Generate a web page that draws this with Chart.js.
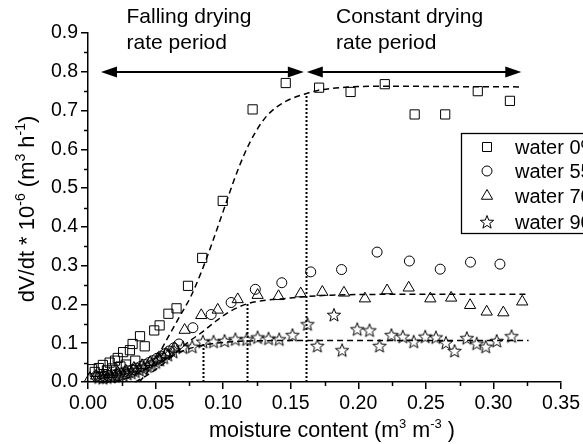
<!DOCTYPE html>
<html lang="en">
<head>
<meta charset="UTF-8">
<title>Drying rate vs moisture content</title>
<script src="https://cdn.jsdelivr.net/npm/chart.js"></script>
<style>
  html, body { margin: 0; padding: 0; background: #fff; }
  #wrap { width: 583px; height: 444px; }
</style>
</head>
<body>
<div id="wrap"><canvas id="chart" width="583" height="444"></canvas></div>
<script>
  // measured points (moisture content, dV/dt * 1e-6)
  const sqX = [0.003, 0.005, 0.008, 0.011, 0.014, 0.016, 0.018, 0.020, 0.022, 0.024, 0.026, 0.028, 0.031, 0.033, 0.035, 0.0385, 0.042, 0.049, 0.053, 0.0595, 0.0655, 0.074, 0.0845, 0.0997, 0.1218, 0.1463, 0.171, 0.1943, 0.2196, 0.2417, 0.2643, 0.2884, 0.3122];
  const sqY = [0.033, 0.026, 0.036, 0.044, 0.030, 0.050, 0.035, 0.055, 0.062, 0.040, 0.077, 0.045, 0.082, 0.098, 0.055, 0.118, 0.092, 0.133, 0.146, 0.176, 0.190, 0.248, 0.320, 0.467, 0.703, 0.771, 0.759, 0.748, 0.768, 0.690, 0.690, 0.750, 0.725];

  const ciX = [0.006, 0.009, 0.012, 0.015, 0.018, 0.021, 0.024, 0.027, 0.030, 0.033, 0.036, 0.039, 0.042, 0.045, 0.048, 0.051, 0.054, 0.057, 0.060, 0.0635, 0.0673, 0.0776, 0.0911, 0.1059, 0.1238, 0.1434, 0.1648, 0.1876, 0.2139, 0.2378, 0.2606, 0.283, 0.3048];
  const ciY = [0.015, 0.013, 0.015, 0.017, 0.018, 0.020, 0.023, 0.026, 0.029, 0.032, 0.036, 0.040, 0.045, 0.050, 0.055, 0.061, 0.067, 0.073, 0.080, 0.088, 0.098, 0.140, 0.174, 0.205, 0.239, 0.256, 0.284, 0.290, 0.335, 0.312, 0.291, 0.309, 0.304];

  const trX = [0.0015, 0.006, 0.011, 0.016, 0.022, 0.028, 0.034, 0.040, 0.046, 0.052, 0.058, 0.064, 0.0715, 0.0838, 0.096, 0.1108, 0.1255, 0.141, 0.1574, 0.1734, 0.1894, 0.2049, 0.2213, 0.2373, 0.2533, 0.2687, 0.2827, 0.295, 0.3073, 0.3213];
  const trY = [0.010, 0.016, 0.018, 0.020, 0.024, 0.029, 0.036, 0.043, 0.051, 0.060, 0.072, 0.088, 0.134, 0.172, 0.186, 0.213, 0.224, 0.221, 0.228, 0.232, 0.230, 0.215, 0.236, 0.243, 0.215, 0.217, 0.198, 0.181, 0.179, 0.207];

  const stX = [0.008, 0.011, 0.014, 0.017, 0.020, 0.023, 0.026, 0.029, 0.032, 0.035, 0.038, 0.041, 0.044, 0.047, 0.050, 0.053, 0.056, 0.059, 0.0629, 0.0702, 0.0771, 0.085, 0.0929, 0.101, 0.109, 0.1174, 0.1255, 0.1336, 0.1415, 0.1513, 0.1624, 0.1697, 0.182, 0.188, 0.1992, 0.2083, 0.2157, 0.2245, 0.2329, 0.241, 0.2495, 0.2574, 0.2648, 0.2712, 0.2803, 0.2876, 0.2943, 0.3024, 0.3134];
  const stY = [0.012, 0.010, 0.012, 0.013, 0.015, 0.016, 0.018, 0.021, 0.024, 0.027, 0.031, 0.035, 0.040, 0.045, 0.051, 0.057, 0.063, 0.070, 0.078, 0.089, 0.091, 0.104, 0.104, 0.106, 0.110, 0.110, 0.115, 0.112, 0.110, 0.121, 0.149, 0.093, 0.173, 0.082, 0.136, 0.133, 0.093, 0.121, 0.117, 0.104, 0.117, 0.115, 0.101, 0.080, 0.113, 0.099, 0.091, 0.106, 0.118];

  // fitted curves (dashed)
  const fit0X = [0.038, 0.045, 0.052, 0.060, 0.068, 0.076, 0.084, 0.092, 0.100, 0.108, 0.116, 0.124, 0.132, 0.140, 0.150, 0.160, 0.170, 0.190, 0.220, 0.260, 0.320];
  const fit0Y = [0.000, 0.030, 0.070, 0.120, 0.170, 0.220, 0.285, 0.360, 0.440, 0.520, 0.590, 0.645, 0.685, 0.710, 0.730, 0.742, 0.752, 0.760, 0.763, 0.762, 0.761];
  const fit70X = [0.035, 0.045, 0.055, 0.065, 0.075, 0.085, 0.095, 0.105, 0.118, 0.130, 0.145, 0.160, 0.180, 0.220, 0.326];
  const fit70Y = [0.000, 0.020, 0.045, 0.075, 0.105, 0.130, 0.158, 0.182, 0.202, 0.210, 0.215, 0.220, 0.224, 0.226, 0.226];
  const fit90X = [0.020, 0.030, 0.040, 0.050, 0.060, 0.070, 0.085, 0.100, 0.120, 0.160, 0.326];
  const fit90Y = [0.000, 0.012, 0.028, 0.045, 0.063, 0.080, 0.095, 0.102, 0.106, 0.107, 0.107];

  const legendLabels = ['water 0%', 'water 55%', 'water 70%', 'water 90%'];

  // annotations
  const arrowY = 0.8;
  const arrowSpans = [[0.0096, 0.1597], [0.1619, 0.3206]];
  const dropLines = [[0.085, 0.100], [0.118, 0.203], [0.161, 0.742]];
  const periodNotes = [
    { x: 0.0285, lines: ['Falling drying', 'rate period'] },
    { x: 0.1835, lines: ['Constant drying', 'rate period'] }
  ];

  const FONT = '"Liberation Sans", Arial, sans-serif';

  function pts(xs, ys) { return xs.map((x, i) => ({ x: x, y: ys[i] })); }

  // hollow 5-point star used as point style
  function makeStar(r) {
    const c = document.createElement('canvas');
    const s = Math.ceil(r * 2 + 4);
    c.width = s; c.height = s;
    const g = c.getContext('2d');
    g.translate(s / 2, s / 2 + 0.5);
    g.beginPath();
    for (let i = 0; i < 10; i++) {
      const rr = i % 2 ? r * 0.42 : r;
      const a = -Math.PI / 2 + i * Math.PI / 5;
      g.lineTo(Math.cos(a) * rr, Math.sin(a) * rr);
    }
    g.closePath();
    g.lineWidth = 1;
    g.strokeStyle = '#000';
    g.stroke();
    return c;
  }
  const starImg = makeStar(7);

  function marker(ctx, kind, x, y) {
    ctx.save();
    ctx.strokeStyle = '#000';
    ctx.lineWidth = 1;
    ctx.beginPath();
    if (kind === 0) {
      ctx.rect(x - 4.5, y - 4.5, 9, 9);
    } else if (kind === 1) {
      ctx.arc(x, y, 5, 0, Math.PI * 2);
    } else if (kind === 2) {
      const r = 6.5;
      ctx.moveTo(x, y - r);
      ctx.lineTo(x + r * 0.866, y + r * 0.5);
      ctx.lineTo(x - r * 0.866, y + r * 0.5);
      ctx.closePath();
    }
    ctx.stroke();
    if (kind === 3) ctx.drawImage(starImg, x - starImg.width / 2, y - starImg.height / 2);
    ctx.restore();
  }

  // text with superscripts: parts = [[text, isSup], ...]
  function richText(ctx, parts, cx, cy, size) {
    const supSize = Math.round(size * 0.62);
    let total = 0;
    const widths = parts.map(p => {
      ctx.font = (p[1] ? supSize : size) + 'px ' + FONT;
      const w = ctx.measureText(p[0]).width;
      total += w;
      return w;
    });
    let x = cx - total / 2;
    const base = cy + size * 0.36;
    ctx.textAlign = 'left';
    ctx.textBaseline = 'alphabetic';
    parts.forEach((p, i) => {
      ctx.font = (p[1] ? supSize : size) + 'px ' + FONT;
      ctx.fillText(p[0], x, p[1] ? base - size * 0.42 : base);
      x += widths[i];
    });
  }

  const decor = {
    id: 'decor',
    beforeDatasetsDraw(chart) {
      const ctx = chart.ctx, xs = chart.scales.x, ys = chart.scales.y;
      ctx.save();
      ctx.strokeStyle = '#000';
      ctx.lineWidth = 2;
      ctx.setLineDash([2, 2]);
      dropLines.forEach(d => {
        const px = Math.round(xs.getPixelForValue(d[0])) + 0.5;
        ctx.beginPath();
        ctx.moveTo(px, ys.getPixelForValue(0));
        ctx.lineTo(px, ys.getPixelForValue(d[1]));
        ctx.stroke();
      });
      ctx.restore();
    },
    afterDraw(chart) {
      const ctx = chart.ctx, xs = chart.scales.x, ys = chart.scales.y;
      const area = chart.chartArea;
      ctx.save();
      ctx.strokeStyle = '#000';
      ctx.fillStyle = '#000';

      // minor ticks
      ctx.lineWidth = 1.5;
      for (let v = 0.05; v < 0.9; v += 0.1) {
        const py = Math.round(ys.getPixelForValue(v)) + 0.5;
        ctx.beginPath(); ctx.moveTo(area.left - 4, py); ctx.lineTo(area.left, py); ctx.stroke();
      }
      for (let v = 0.025; v < 0.35; v += 0.05) {
        const px = Math.round(xs.getPixelForValue(v)) + 0.5;
        ctx.beginPath(); ctx.moveTo(px, area.bottom); ctx.lineTo(px, area.bottom + 4); ctx.stroke();
      }

      // double arrows
      const ay = Math.round(ys.getPixelForValue(arrowY));
      ctx.lineWidth = 2;
      arrowSpans.forEach(s => {
        const x1 = xs.getPixelForValue(s[0]), x2 = xs.getPixelForValue(s[1]);
        ctx.beginPath(); ctx.moveTo(x1 + 8, ay); ctx.lineTo(x2 - 8, ay); ctx.stroke();
        ctx.beginPath();
        ctx.moveTo(x1, ay); ctx.lineTo(x1 + 16, ay - 5.5); ctx.lineTo(x1 + 16, ay + 5.5); ctx.closePath();
        ctx.moveTo(x2, ay); ctx.lineTo(x2 - 16, ay - 5.5); ctx.lineTo(x2 - 16, ay + 5.5); ctx.closePath();
        ctx.fill();
      });

      // period notes
      ctx.font = '21px ' + FONT;
      ctx.textAlign = 'left';
      ctx.textBaseline = 'middle';
      periodNotes.forEach(n => {
        const px = xs.getPixelForValue(n.x);
        ctx.fillText(n.lines[0], px, 17);
        ctx.fillText(n.lines[1], px, 43);
      });

      // axis titles
      richText(ctx, [['moisture content (m', false], ['3', true], [' m', false], ['-3', true], [' )', false]], 332, 429, 21.5);
      ctx.save();
      ctx.translate(26, 209);
      ctx.rotate(-Math.PI / 2);
      richText(ctx, [['dV/dt * 10', false], ['-6', true], [' (m', false], ['3', true], [' h', false], ['-1', true], [')', false]], 0, 0, 22);
      ctx.restore();

      // legend box (runs off the right edge as in the source)
      ctx.lineWidth = 1.3;
      ctx.strokeRect(461.5, 133.5, 200, 100);
      const rows = [147, 171, 196, 222];
      ctx.font = '20px ' + FONT;
      ctx.textAlign = 'left';
      ctx.textBaseline = 'middle';
      legendLabels.forEach((t, i) => {
        marker(ctx, i, 487, rows[i]);
        ctx.fillText(t, 515, rows[i] + 1);
      });
      ctx.restore();
    }
  };

  const pointBase = { borderColor: '#000', backgroundColor: 'rgba(0,0,0,0)', borderWidth: 1, showLine: false, clip: false };
  const fitBase = { borderColor: '#000', borderWidth: 1.5, borderDash: [6, 4], pointRadius: 0, showLine: true, cubicInterpolationMode: 'monotone', fill: false, clip: false };

  new Chart(document.getElementById('chart'), {
    type: 'scatter',
    data: {
      datasets: [
        Object.assign({ label: 'fit 0', data: pts(fit0X, fit0Y) }, fitBase),
        Object.assign({ label: 'fit 70', data: pts(fit70X, fit70Y) }, fitBase),
        Object.assign({ label: 'fit 90', data: pts(fit90X, fit90Y) }, fitBase),
        Object.assign({ label: legendLabels[0], data: pts(sqX, sqY), pointStyle: 'rect', pointRadius: 6.5 }, pointBase),
        Object.assign({ label: legendLabels[1], data: pts(ciX, ciY), pointStyle: 'circle', pointRadius: 5 }, pointBase),
        Object.assign({ label: legendLabels[2], data: pts(trX, trY), pointStyle: 'triangle', pointRadius: 6.5 }, pointBase),
        Object.assign({ label: legendLabels[3], data: pts(stX, stY), pointStyle: starImg, pointRadius: 7 }, pointBase)
      ]
    },
    options: {
      responsive: false,
      animation: false,
      devicePixelRatio: 1,
      events: [],
      layout: { padding: { left: 0, right: 20, top: 33, bottom: 0 } },
      plugins: { legend: { display: false }, tooltip: { enabled: false } },
      scales: {
        x: {
          type: 'linear', min: 0, max: 0.35,
          afterFit: s => { s.height = 62; },
          border: { display: true, color: '#000', width: 1.5 },
          grid: { drawOnChartArea: false, color: '#000', tickLength: 7, lineWidth: 1.5 },
          ticks: { stepSize: 0.05, color: '#000', padding: 3, maxRotation: 0, font: { family: FONT, size: 19.5 }, callback: v => v.toFixed(2) }
        },
        y: {
          type: 'linear', min: 0, max: 0.9,
          afterFit: s => { s.width = 88; },
          border: { display: true, color: '#000', width: 1.5 },
          grid: { drawOnChartArea: false, color: '#000', tickLength: 7, lineWidth: 1.5 },
          ticks: { stepSize: 0.1, color: '#000', padding: 3, font: { family: FONT, size: 19.5 }, callback: v => v.toFixed(1) }
        }
      }
    },
    plugins: [decor]
  });
</script>
</body>
</html>
